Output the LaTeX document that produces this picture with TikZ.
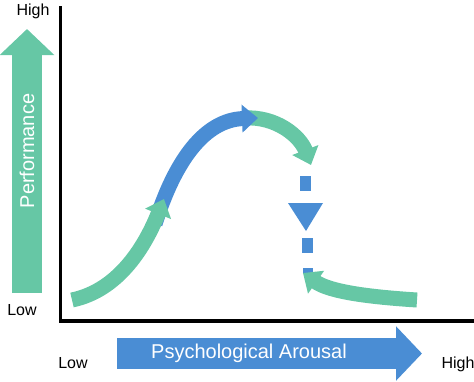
\documentclass[tikz,border=0pt]{standalone}
\usepackage{fontspec}
\setmainfont{Liberation Sans}
\usepackage{tikz}
\usetikzlibrary{positioning, calc, arrows.meta}
\definecolor{mint}{RGB}{102,199,165}
\definecolor{sky}{RGB}{74,141,212}
\definecolor{ink}{RGB}{0,0,0}
\tikzset{
  axis/.style={draw=ink,line width=3.5pt},
  bigarr/.style={line width=#1,-{Triangle[length=26pt,width=53pt]}},
  curve/.style={line width=15pt,-{Triangle[length=16pt,width=27pt]}},
  lbl/.style={font=\fontsize{16}{18}\selectfont,text=ink,anchor=base},
  inlbl/.style={font=\fontsize{20}{22}\selectfont,text=white},
  dashbit/.style={fill=sky,draw=none},
}

\begin{document}
\begin{tikzpicture}[x=1pt,y=-1pt]
  \useasboundingbox (0,0) rectangle (474,381);
  % axes
  \coordinate (top) at (60.5,6);
  \coordinate (orig) at (60.5,321);
  \coordinate (right) at (474,321);
  \draw[axis] (top) -- (orig) -- (right);
  % big arrows with their labels
  \coordinate (pbot) at (27,293);
  \coordinate (ptop) at (27,29);
  \draw[bigarr=30pt,mint] (pbot) -- (ptop);
  \node[inlbl,rotate=90] (perf) at (27,151) {Performance};
  \coordinate (aleft) at (117,353.5);
  \coordinate (aright) at (422,353.5);
  \draw[bigarr=31pt,sky] (aleft) -- (aright);
  \node[inlbl] (arou) at (249,353) {Psychological Arousal};
  % end labels
  \node[lbl] (phigh) at (33,15) {High};
  \node[lbl] (plow) at (22,315) {Low};
  \node[lbl] (alow) at (73,368) {Low};
  \node[lbl,anchor=base west] (ahigh) at (438,368) {High};
  % the curve
  \coordinate (c0) at (72,300);
  \coordinate (c1) at (164,199);
  \coordinate (c2) at (155,224);
  \coordinate (c3) at (258,118);
  \coordinate (c4) at (244,118);
  \coordinate (c5) at (311,165);
  \coordinate (c6) at (417,300);
  \coordinate (c7) at (303,273);
  \draw[curve,mint] (c4) .. controls (276,116) and (300,136) .. (c5);
  \draw[curve,sky] (c2) .. controls (175,160) and (205,120) .. (c3);
  \draw[curve,mint] (c0) .. controls (120,290) and (146,244) .. (c1);
  % broken drop
  \fill[dashbit] (300,176) rectangle (311,191);
  \fill[dashbit] (288,203) -- (323,203) -- (306,231) -- cycle;
  \fill[dashbit] (302,238) rectangle (313,253);
  \fill[dashbit] (303,268) rectangle (313,274);
  \draw[curve,mint] (c6) .. controls (370,297) and (330,292) .. (c7);
\end{tikzpicture}
\end{document}
